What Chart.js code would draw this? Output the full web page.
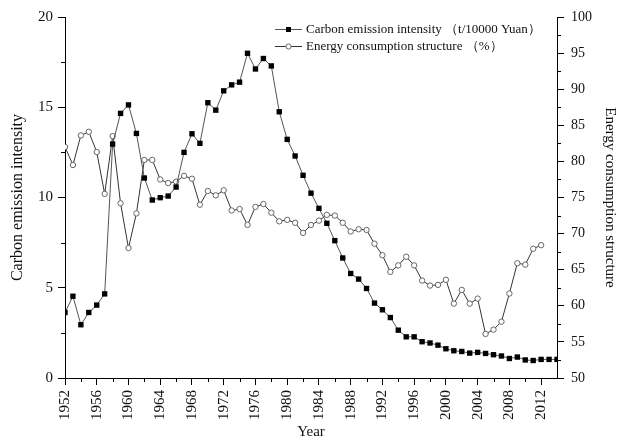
<!DOCTYPE html>
<html>
<head>
<meta charset="utf-8">
<script src="https://cdn.jsdelivr.net/npm/chart.js@4/dist/chart.umd.min.js"></script>
<style>
  html, body { margin: 0; padding: 0; background: #fff; }
  canvas { display: block; }
</style>
</head>
<body>
<canvas id="chart" width="619" height="443"></canvas>
<script>
// ─── Data ────────────────────────────────────────────────────────────────────

const carbonYears = [
  1952, 1953, 1954, 1955, 1956, 1957, 1958, 1959, 1960, 1961, 1962, 1963,
  1964, 1965, 1966, 1967, 1968, 1969, 1970, 1971, 1972, 1973, 1974, 1975,
  1976, 1977, 1978, 1979, 1980, 1981, 1982, 1983, 1984, 1985, 1986, 1987,
  1988, 1989, 1990, 1991, 1992, 1993, 1994, 1995, 1996, 1997, 1998, 1999,
  2000, 2001, 2002, 2003, 2004, 2005, 2006, 2007, 2008, 2009, 2010, 2011,
  2012, 2013, 2014,
];
const carbonValues = [
  3.63, 4.53, 2.95, 3.63, 4.04, 4.66, 12.96, 14.66, 15.13, 13.55, 11.08, 9.86,
  9.99, 10.08, 10.58, 12.5, 13.53, 13.0, 15.25, 14.84, 15.91, 16.24, 16.39, 17.99,
  17.12, 17.7, 17.29, 14.75, 13.22, 12.3, 11.23, 10.24, 9.4, 8.57, 7.61, 6.65,
  5.79, 5.48, 4.96, 4.15, 3.78, 3.35, 2.65, 2.28, 2.28, 2.01, 1.94, 1.82,
  1.62, 1.51, 1.47, 1.38, 1.42, 1.36, 1.29, 1.22, 1.08, 1.16, 1.0, 0.97,
  1.03, 1.03, 1.03,
];

const energyYears = [
  1952, 1953, 1954, 1955, 1956, 1957, 1958, 1959, 1960, 1961, 1962, 1963,
  1964, 1965, 1966, 1967, 1968, 1969, 1970, 1971, 1972, 1973, 1974, 1975,
  1976, 1977, 1978, 1979, 1980, 1981, 1982, 1983, 1984, 1985, 1986, 1987,
  1988, 1989, 1990, 1991, 1992, 1993, 1994, 1995, 1996, 1997, 1998, 1999,
  2000, 2001, 2002, 2003, 2004, 2005, 2006, 2007, 2008, 2009, 2010, 2011,
  2012,
];
const energyValues = [
  82.0, 79.5, 83.6, 84.1, 81.3, 75.5, 83.5, 74.2, 68.0, 72.8, 80.2, 80.2,
  77.5, 77.0, 77.2, 78.0, 77.6, 74.0, 75.9, 75.3, 76.0, 73.2, 73.4, 71.2,
  73.7, 74.1, 72.9, 71.7, 71.9, 71.5, 70.1, 71.2, 71.8, 72.6, 72.5, 71.5,
  70.3, 70.6, 70.5, 68.6, 67.0, 64.7, 65.6, 66.8, 65.6, 63.5, 62.8, 62.9,
  63.6, 60.3, 62.2, 60.3, 61.0, 56.1, 56.7, 57.8, 61.7, 65.9, 65.7, 67.9,
  68.4,
];

const xTicks = [1952, 1956, 1960, 1964, 1968, 1972, 1976, 1980, 1984, 1988, 1992, 1996, 2000, 2004, 2008, 2012];
const leftTicks = [0, 5, 10, 15, 20];
const rightTicks = [50, 55, 60, 65, 70, 75, 80, 85, 90, 95, 100];

const carbonLabel = "Carbon emission intensity （t/10000 Yuan）";
const energyLabel = "Energy consumption structure （%）";

const FONT = "'Liberation Serif', 'Times New Roman', serif";

// ─── Minor ticks (half length, between the labelled ones) ────────────────────

const minorTicks = {
  id: "minorTicks",
  afterDraw(chart) {
    const { ctx } = chart;
    const { x, y, y2 } = chart.scales;
    ctx.save();
    ctx.strokeStyle = "#000";
    ctx.lineWidth = 1;
    ctx.beginPath();
    xTicks.map((v) => v + 2).filter((v) => v < x.max).forEach((v) => {
      const px = Math.round(x.getPixelForValue(v)) + 0.5;
      ctx.moveTo(px, x.top);
      ctx.lineTo(px, x.top + 4);
    });
    leftTicks.slice(0, -1).map((v) => v + 2.5).forEach((v) => {
      const py = Math.round(y.getPixelForValue(v)) + 0.5;
      ctx.moveTo(y.right, py);
      ctx.lineTo(y.right - 4, py);
    });
    rightTicks.slice(0, -1).map((v) => v + 2.5).forEach((v) => {
      const py = Math.round(y2.getPixelForValue(v)) + 0.5;
      ctx.moveTo(y2.left, py);
      ctx.lineTo(y2.left + 4, py);
    });
    ctx.stroke();
    ctx.restore();
  },
};

// ─── Legend inside the plot: "— ■ — label" rows ──────────────────────────────

const lineLegend = {
  id: "lineLegend",
  afterDraw(chart) {
    const { ctx } = chart;
    const x0 = 275, x1 = 302, mx = 288.5;
    const rows = chart.data.datasets.map((ds, i) => ({ ds, y: 29 + i * 17 }));
    ctx.save();
    rows.forEach(({ ds, y }) => {
      ctx.strokeStyle = ds.borderColor;
      ctx.lineWidth = 1;
      ctx.beginPath();
      ctx.moveTo(x0, y + 0.5);
      ctx.lineTo(x1, y + 0.5);
      ctx.stroke();
      if (ds.pointStyle === "rect") {
        ctx.fillStyle = "#000";
        ctx.fillRect(mx - 2.5, y - 2, 5, 5);
      } else {
        ctx.fillStyle = "#fff";
        ctx.strokeStyle = ds.pointBorderColor;
        ctx.beginPath();
        ctx.arc(mx, y + 0.5, 2.6, 0, Math.PI * 2);
        ctx.fill();
        ctx.stroke();
      }
      ctx.fillStyle = "#111";
      ctx.font = `13px ${FONT}`;
      ctx.textBaseline = "middle";
      ctx.fillText(ds.label, 306, y + 1);
    });
    ctx.restore();
  },
};

// ─── Chart ───────────────────────────────────────────────────────────────────

new Chart(document.getElementById("chart"), {
  type: "line",
  data: {
    datasets: [
      {
        label: carbonLabel,
        data: carbonYears.map((yr, i) => ({ x: yr, y: carbonValues[i] })),
        yAxisID: "y",
        borderColor: "#555",
        borderWidth: 1,
        pointStyle: "rect",
        pointRadius: 3.8,
        pointBackgroundColor: "#000",
        pointBorderColor: "#000",
        pointBorderWidth: 0,
        tension: 0,
      },
      {
        label: energyLabel,
        data: energyYears.map((yr, i) => ({ x: yr, y: energyValues[i] })),
        yAxisID: "y2",
        borderColor: "#333",
        borderWidth: 1,
        pointStyle: "circle",
        pointRadius: 2.7,
        pointBackgroundColor: "#fff",
        pointBorderColor: "#666",
        pointBorderWidth: 1,
        tension: 0,
      },
    ],
  },
  options: {
    responsive: false,
    animation: false,
    events: [],
    layout: { padding: { top: 17, left: 0, right: 0, bottom: 0 } },
    plugins: {
      legend: { display: false },
      tooltip: { enabled: false },
    },
    scales: {
      x: {
        type: "linear",
        min: 1952,
        max: 2014,
        afterBuildTicks: (s) => { s.ticks = xTicks.map((v) => ({ value: v })); },
        afterFit: (s) => { s.height = 65; },
        ticks: {
          color: "#111",
          font: { family: FONT, size: 15 },
          minRotation: 90,
          maxRotation: 90,
          padding: 5,
          callback: (v) => String(v),
        },
        grid: { drawOnChartArea: false, tickLength: 7, tickColor: "#000" },
        border: { color: "#000", width: 1 },
        title: {
          display: true,
          text: "Year",
          color: "#111",
          font: { family: FONT, size: 15 },
          padding: { top: 0, bottom: 2 },
        },
      },
      y: {
        position: "left",
        min: 0,
        max: 20,
        afterBuildTicks: (s) => { s.ticks = leftTicks.map((v) => ({ value: v })); },
        afterFit: (s) => { s.width = 65; },
        ticks: { color: "#111", font: { family: FONT, size: 15 }, padding: 5 },
        grid: { drawOnChartArea: false, tickLength: 7, tickColor: "#000" },
        border: { color: "#000", width: 1 },
        title: {
          display: true,
          text: "Carbon emission intensity",
          color: "#111",
          font: { family: FONT, size: 16 },
          padding: { top: 8, bottom: 0 },
        },
      },
      y2: {
        position: "right",
        min: 50,
        max: 100,
        afterBuildTicks: (s) => { s.ticks = rightTicks.map((v) => ({ value: v })); },
        afterFit: (s) => { s.width = 62; },
        ticks: { color: "#111", font: { family: FONT, size: 14 }, padding: 7 },
        grid: { drawOnChartArea: false, tickLength: 7, tickColor: "#000" },
        border: { color: "#000", width: 1 },
        title: {
          display: true,
          text: "Energy consumption structure",
          color: "#111",
          font: { family: FONT, size: 15 },
          padding: { top: 0, bottom: 3 },
        },
      },
    },
  },
  plugins: [minorTicks, lineLegend],
});
</script>
</body>
</html>
